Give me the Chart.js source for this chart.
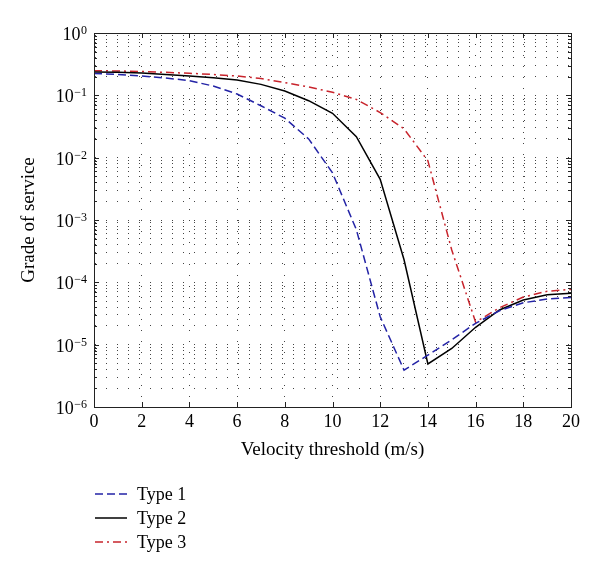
<!DOCTYPE html>
<html>
<head>
<meta charset="utf-8">
<title>Grade of service vs velocity threshold</title>
<script src="https://cdn.jsdelivr.net/npm/chart.js@4.4.0/dist/chart.umd.min.js"></script>
<style>
    html, body { margin: 0; padding: 0; background: #fff; }
    #wrap { width: 600px; height: 573px; }
</style>
</head>
<body>
<div id="wrap"><canvas id="gosChart" width="600" height="573"></canvas></div>
<script>
// Velocity threshold (m/s)
const velocity = [0, 1, 2, 3, 4, 5, 6, 7, 8, 9, 10, 11, 12, 13, 14, 15, 16, 17, 18, 19, 20];

// Grade of service
const type1 = [0.224, 0.216, 0.204, 0.19, 0.172, 0.141, 0.105, 0.068, 0.043, 0.02, 0.0057,
    0.0007, 2.8e-5, 3.9e-6, 6.8e-6, 1.2e-5, 2.2e-5, 3.5e-5, 4.7e-5, 5.4e-5, 5.7e-5];
const type2 = [0.237, 0.234, 0.228, 0.216, 0.204, 0.192, 0.176, 0.15, 0.117, 0.082, 0.0515,
    0.0217, 0.0045, 2.3e-4, 4.9e-6, 8.7e-6, 1.9e-5, 3.6e-5, 5.2e-5, 6.3e-5, 6.7e-5];
const type3 = [0.248, 0.246, 0.241, 0.234, 0.226, 0.216, 0.204, 0.186, 0.16, 0.136, 0.112,
    0.086, 0.053, 0.029, 0.0089, 3.3e-4, 2.3e-5, 3.9e-5, 5.8e-5, 7.2e-5, 7.7e-5];

const seriesNames = ['Type 1', 'Type 2', 'Type 3'];

// Axis ticks
const xTickLabels = ['0', '2', '4', '6', '8', '10', '12', '14', '16', '18', '20'];
const yMajorTicks = [1e-6, 1e-5, 1e-4, 1e-3, 1e-2, 1e-1, 1];
const yTickExponents = ['\u22126', '\u22125', '\u22124', '\u22123', '\u22122', '\u22121', '0'];
const yMinorSteps = [2, 3, 4, 5, 6, 7, 8, 9];

const FONT = "'Liberation Serif', 'DejaVu Serif', serif";

function toPoints(values) {
    return velocity.map((v, i) => ({ x: v, y: values[i] }));
}

// every decade gets grid lines at 1..9
const yGridValues = [];
yMajorTicks.forEach((m, i) => {
    yGridValues.push(m);
    if (i < yMajorTicks.length - 1) {
        yMinorSteps.forEach(s => yGridValues.push(m * s));
    }
});

// Box, inward ticks, superscript y labels and the legend under the plot
const matlabFrame = {
    id: 'matlabFrame',
    afterDraw(chart) {
        const ctx = chart.ctx;
        const area = chart.chartArea;
        const xs = chart.scales.x;
        const ys = chart.scales.y;

        ctx.save();
        ctx.strokeStyle = '#222';
        ctx.lineWidth = 1;
        ctx.setLineDash([]);
        ctx.strokeRect(Math.round(area.left) + 0.5, Math.round(area.top) + 0.5,
            Math.round(area.right - area.left), Math.round(area.bottom - area.top));

        // inward ticks
        ctx.beginPath();
        xTickLabels.forEach(t => {
            const px = Math.round(xs.getPixelForValue(Number(t))) + 0.5;
            ctx.moveTo(px, area.bottom); ctx.lineTo(px, area.bottom - 5);
            ctx.moveTo(px, area.top); ctx.lineTo(px, area.top + 5);
        });
        yGridValues.forEach(v => {
            const py = Math.round(ys.getPixelForValue(v)) + 0.5;
            const len = yMajorTicks.includes(v) ? 5 : 3;
            ctx.moveTo(area.left, py); ctx.lineTo(area.left + len, py);
            ctx.moveTo(area.right, py); ctx.lineTo(area.right - len, py);
        });
        ctx.stroke();

        // y labels 10^n
        ctx.fillStyle = '#000';
        ctx.textAlign = 'right';
        ctx.textBaseline = 'alphabetic';
        yMajorTicks.forEach((v, i) => {
            const py = ys.getPixelForValue(v);
            const right = area.left - 7;
            ctx.font = '12px ' + FONT;
            const exp = yTickExponents[i];
            const w = ctx.measureText(exp).width;
            ctx.fillText(exp, right, py + 1);
            ctx.font = '18px ' + FONT;
            ctx.fillText('10', right - w - 0.5, py + 7);
        });

        // legend
        const legendY = [494, 518, 542];
        chart.data.datasets.forEach((ds, i) => {
            ctx.strokeStyle = ds.borderColor;
            ctx.lineWidth = ds.borderWidth;
            ctx.setLineDash(ds.borderDash || []);
            ctx.beginPath();
            ctx.moveTo(95, legendY[i]);
            ctx.lineTo(127, legendY[i]);
            ctx.stroke();
            ctx.setLineDash([]);
            ctx.fillStyle = '#000';
            ctx.font = '18px ' + FONT;
            ctx.textAlign = 'left';
            ctx.textBaseline = 'middle';
            ctx.fillText(ds.label, 137, legendY[i] + 1);
        });
        ctx.restore();
    }
};

const gridDots = {
    color: '#444',
    lineWidth: 1,
    drawTicks: false
};

new Chart(document.getElementById('gosChart'), {
    type: 'line',
    data: {
        datasets: [
            {
                label: seriesNames[0],
                data: toPoints(type1),
                borderColor: '#2323a6',
                borderWidth: 1.5,
                borderDash: [8, 4]
            },
            {
                label: seriesNames[1],
                data: toPoints(type2),
                borderColor: '#000000',
                borderWidth: 1.5
            },
            {
                label: seriesNames[2],
                data: toPoints(type3),
                borderColor: '#c8242c',
                borderWidth: 1.5,
                borderDash: [8, 4, 2, 4]
            }
        ]
    },
    options: {
        responsive: false,
        animation: false,
        layout: { padding: { top: 33, right: 29, left: 0, bottom: 0 } },
        elements: {
            point: { radius: 0 },
            line: { tension: 0, fill: false }
        },
        plugins: {
            legend: { display: false },
            tooltip: { enabled: false }
        },
        scales: {
            x: {
                type: 'linear',
                min: 0,
                max: 20,
                ticks: {
                    stepSize: 2,
                    padding: 4,
                    color: '#000',
                    font: { family: FONT, size: 18 },
                    callback: (v) => xTickLabels[v / 2]
                },
                grid: gridDots,
                border: { dash: [1, 10], color: '#222', width: 1 },
                title: {
                    display: true,
                    text: 'Velocity threshold (m/s)',
                    color: '#000',
                    font: { family: FONT, size: 19 },
                    padding: { top: 0, bottom: 112 }
                },
                afterFit: (s) => { s.height = 166; }
            },
            y: {
                type: 'logarithmic',
                min: 1e-6,
                max: 1,
                afterBuildTicks: (s) => {
                    s.ticks = yGridValues.map(v => ({ value: v }));
                },
                ticks: { display: false, autoSkip: false },
                grid: gridDots,
                border: { dash: [1, 10], color: '#222', width: 1 },
                title: {
                    display: true,
                    text: 'Grade of service',
                    color: '#000',
                    font: { family: FONT, size: 19 },
                    padding: { top: 18, bottom: 0 }
                },
                afterFit: (s) => { s.width = 94; }
            }
        }
    },
    plugins: [matlabFrame]
});
</script>
</body>
</html>
